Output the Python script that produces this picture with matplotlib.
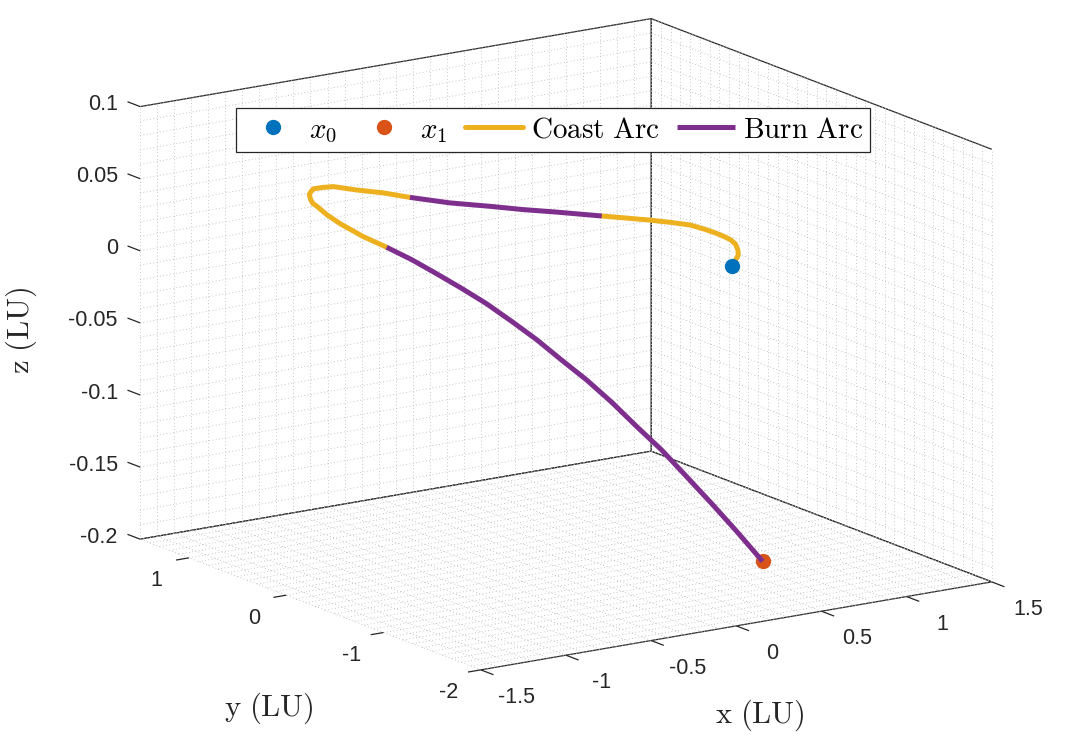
import numpy as np
import matplotlib
matplotlib.use('Agg')
import matplotlib.pyplot as plt
from mpl_toolkits.mplot3d.art3d import Line3DCollection

plt.rcParams['mathtext.fontset'] = 'cm'
plt.rcParams['font.family'] = ['Liberation Sans', 'DejaVu Sans']

# Boundary states (LU)
x0 = [0.739, -0.665, 0.0]
x1 = [0.773, -0.918, -0.199]

# Coast arc 1: x0 -> first burn
coast1_x = [0.739, 0.880, 0.931, 0.984, 1.008, 1.016, 1.020, 1.017, 1.008, 1.001,
            0.948, 0.887, 0.812, 0.738]
coast1_y = [-0.665, -0.481, -0.387, -0.269, -0.180, -0.106, -0.016, 0.081, 0.168, 0.227,
            0.340, 0.449, 0.564, 0.674]
coast1_z = [0.0] * 14

# Burn arc 1
burn1_x = [0.738, 0.582, 0.441, 0.296, 0.094, -0.132]
burn1_y = [0.674, 0.862, 0.964, 1.049, 1.106, 1.122]
burn1_z = [0.0, 0.001, 0.003, 0.006, 0.011, 0.019]

# Coast arc 2
coast2_x = [-0.132, -0.300, -0.483, -0.679, -0.796, -0.921, -0.984, -1.028, -1.093,
            -1.123, -1.150, -1.184, -1.195, -1.177, -1.134]
coast2_y = [1.122, 1.105, 1.055, 0.953, 0.865, 0.734, 0.653, 0.588, 0.460,
            0.384, 0.300, 0.137, -0.019, -0.223, -0.392]
coast2_z = [0.019, 0.026, 0.033, 0.042, 0.046, 0.051, 0.052, 0.053, 0.054,
            0.054, 0.055, 0.054, 0.052, 0.048, 0.044]

# Burn arc 2: -> x1
burn2_x = [-1.134, -1.072, -0.998, -0.914, -0.823, -0.724, -0.618, -0.505,
           -0.385, -0.259, -0.125, 0.018, 0.172, 0.340, 0.529, 0.773]
burn2_y = [-0.392, -0.540, -0.667, -0.778, -0.874, -0.957, -1.029, -1.089,
           -1.136, -1.172, -1.194, -1.200, -1.188, -1.151, -1.077, -0.918]
burn2_z = [0.044, 0.038, 0.030, 0.021, 0.011, -0.001, -0.014, -0.029,
           -0.044, -0.061, -0.080, -0.099, -0.121, -0.144, -0.169, -0.199]

# Axes ticks
xticks = [-1.5, -1, -0.5, 0, 0.5, 1, 1.5]
yticks = [-2, -1, 0, 1]
zticks = [-0.2, -0.15, -0.1, -0.05, 0, 0.05, 0.1]
xlim, ylim, zlim = (-1.5, 1.5), (-2, 1.5), (-0.2, 0.1)

c_x0 = '#0072BD'
c_x1 = '#D95319'
c_coast = '#EDB120'
c_burn = '#7E2F8E'
c_ax = '#262626'

fig = plt.figure(figsize=(10.7, 7.5), dpi=100)
ax = fig.add_axes([206.5/1070, 46.3/750, 700/1070, 700/750], projection='3d',
                  computed_zorder=False)
ax.set_proj_type('ortho')
ax.view_init(elev=14.89, azim=-123.82)

for axis in (ax.xaxis, ax.yaxis, ax.zaxis):
    axis.set_pane_color((1, 1, 1, 1))
    axis.pane.set_edgecolor(c_ax)
    axis.pane.set_linewidth(0.9)
    axis.line.set_color((0, 0, 0, 0))
ax.grid(False)
ax.set_xticks([])
ax.set_yticks([])
ax.set_zticks([])

# minor grid on the back walls and the floor (dotted)
gx = np.arange(xlim[0], xlim[1] + 1e-9, 0.1)
gy = np.arange(ylim[0], ylim[1] + 1e-9, 0.1)
gz = np.arange(zlim[0], zlim[1] + 1e-9, 0.01)
segs = []
for v in gx:
    segs.append([(v, ylim[1], zlim[0]), (v, ylim[1], zlim[1])])
    segs.append([(v, ylim[0], zlim[0]), (v, ylim[1], zlim[0])])
for v in gy:
    segs.append([(xlim[1], v, zlim[0]), (xlim[1], v, zlim[1])])
    segs.append([(xlim[0], v, zlim[0]), (xlim[1], v, zlim[0])])
for v in gz:
    segs.append([(xlim[0], ylim[1], v), (xlim[1], ylim[1], v)])
    segs.append([(xlim[1], ylim[0], v), (xlim[1], ylim[1], v)])
grid = Line3DCollection(segs, colors='#b5b5b5', linewidths=0.6,
                        linestyles=(0, (1, 3)), zorder=0.5)
grid.set_clip_on(False)
ax.add_collection3d(grid)

# tick marks (label positions worked out after limits are fixed)
tsegs = []
for v in xticks:
    tsegs.append([(v, ylim[0], zlim[0]), (v, ylim[0] - 0.13, zlim[0])])
for v in yticks:
    tsegs.append([(xlim[0], v, zlim[0]), (xlim[0] - 0.075, v, zlim[0])])
for v in zticks:
    tsegs.append([(xlim[0], ylim[1], v), (xlim[0], ylim[1] + 0.13, v)])
ticks = Line3DCollection(tsegs, colors=c_ax, linewidths=0.9, zorder=0.6)
ticks.set_clip_on(False)
ax.add_collection3d(ticks)

# trajectory
lw = 3.6
h1, = ax.plot([x1[0]], [x1[1]], [x1[2]], 'o', color=c_x1, ms=10, zorder=1.5)
hc, = ax.plot(coast1_x, coast1_y, coast1_z, color=c_coast, lw=lw,
              solid_capstyle='round', solid_joinstyle='round', zorder=2)
ax.plot(coast2_x, coast2_y, coast2_z, color=c_coast, lw=lw,
        solid_capstyle='round', solid_joinstyle='round', zorder=2)
hb, = ax.plot(burn1_x, burn1_y, burn1_z, color=c_burn, lw=lw,
              solid_capstyle='butt', solid_joinstyle='round', zorder=2.1)
ax.plot(burn2_x, burn2_y, burn2_z, color=c_burn, lw=lw,
        solid_capstyle='butt', solid_joinstyle='round', zorder=2.1)
h0, = ax.plot([x0[0]], [x0[1]], [x0[2]], 'o', color=c_x0, ms=10, zorder=3)

ax.set_xlim(*xlim)
ax.set_ylim(*ylim)
ax.set_zlim(*zlim)
ax.set_box_aspect((1137.9, 1132.4, 828.2), zoom=1.354)

# tick labels: project the 3D anchor through the axes' own projection
M = ax.get_proj()


def tick_label(x, y, z, s, ha):
    v = M @ np.array([x, y, z, 1.0])
    ax.text2D(v[0] / v[3], v[1] / v[3], s, transform=ax.transData, ha=ha,
              va='center', fontsize=15.5, color=c_ax)


for v in xticks:
    tick_label(v, ylim[0] - 0.37, zlim[0] - 0.0095, f'{v:g}', 'center')
for v in yticks:
    tick_label(xlim[0] - 0.188, v, zlim[0] - 0.0121, f'{v:g}', 'center')
for v in zticks:
    tick_label(xlim[0], ylim[1] + 0.23, v - 0.0046, f'{v:g}', 'right')

leg = ax.legend([h0, h1, hc, hb],
                [r'$x_0$', r'$x_1$', r'$\mathrm{Coast\ Arc}$', r'$\mathrm{Burn\ Arc}$'],
                loc='upper center', bbox_to_anchor=(553.3/1070, 1 - 108.3/750),
                bbox_transform=fig.transFigure, ncol=4, fontsize=21, frameon=True,
                fancybox=False, edgecolor=c_ax, framealpha=1, borderpad=0.25,
                handlelength=2.0, handletextpad=0.25, columnspacing=0.6,
                borderaxespad=0)
leg.get_frame().set_linewidth(0.9)

fig.text(760/1070, 1 - 715/750, r'$\mathrm{x\ (LU)}$', fontsize=22, ha='center',
         va='center', color=c_ax)
fig.text(269/1070, 1 - 708/750, r'$\mathrm{y\ (LU)}$', fontsize=22, ha='center',
         va='center', color=c_ax)
fig.text(21/1070, 1 - 330/750, r'$\mathrm{z\ (LU)}$', fontsize=22, ha='center',
         va='center', rotation=90, color=c_ax)

fig.savefig('out.png', dpi=100, facecolor='white')
